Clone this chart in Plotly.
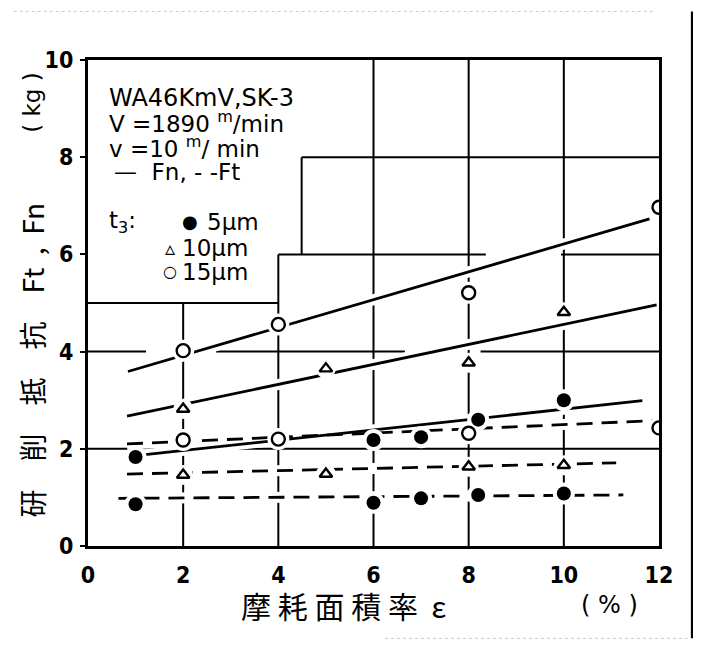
import plotly.graph_objects as go

# ---------------- data ----------------
# t3 = 5 um (filled circles)
x5 = [1, 6, 7, 8.2, 10]
fn5 = [1.83, 2.18, 2.24, 2.6, 3.0]
ft5 = [0.86, 0.89, 0.98, 1.05, 1.08]
# t3 = 10 um (open triangles)
x10 = [2, 5, 8, 10]
fn10 = [2.82, 3.65, 3.77, 4.81]
ft10 = [1.46, 1.48, 1.63, 1.66]
# t3 = 15 um (open circles)
x15 = [2, 4, 8, 12]
fn15 = [4.02, 4.56, 5.21, 6.97]
ft15 = [2.18, 2.2, 2.32, 2.43]

# fitted lines (end points)
fit_fn5_x, fit_fn5_y = [1.1, 11.65], [1.87, 2.99]
fit_ft5_x, fit_ft5_y = [0.64, 11.25], [0.98, 1.05]
fit_fn10_x, fit_fn10_y = [0.82, 11.95], [2.67, 4.96]
fit_ft10_x, fit_ft10_y = [0.82, 11.1], [1.48, 1.71]
fit_fn15_x, fit_fn15_y = [0.84, 11.8], [3.59, 6.73]
fit_ft15_x, fit_ft15_y = [0.82, 11.9], [2.1, 2.58]

xticks = [0, 2, 4, 6, 8, 10, 12]
yticks = [0, 2, 4, 6, 8, 10]

FONT = "DejaVu Sans Condensed"
LFONT = "DejaVu Sans"
CJK = "Noto Sans CJK JP"

fig = go.Figure()

fits = [
    (fit_fn5_x, fit_fn5_y, "solid"),
    (fit_ft5_x, fit_ft5_y, "16px,9px"),
    (fit_fn10_x, fit_fn10_y, "solid"),
    (fit_ft10_x, fit_ft10_y, "16px,9px"),
    (fit_fn15_x, fit_fn15_y, "solid"),
    (fit_ft15_x, fit_ft15_y, "16px,9px"),
]
# white under-lays (gaps in grid where lines cross)
for fx, fy, d in fits:
    fig.add_trace(go.Scatter(x=fx, y=fy, mode="lines",
                             line=dict(color="white", width=11),
                             hoverinfo="skip", showlegend=False))
for fx, fy, d in fits:
    fig.add_trace(go.Scatter(x=fx, y=fy, mode="lines",
                             line=dict(color="black", width=2.8, dash=d),
                             hoverinfo="skip", showlegend=False))

# marker halos
for xs, ys, sz in [(x5, fn5, 22), (x5, ft5, 22), (x10, fn10, 20), (x10, ft10, 20),
                   (x15, fn15, 22), (x15, ft15, 22)]:
    fig.add_trace(go.Scatter(x=xs, y=ys, mode="markers",
                             marker=dict(symbol="circle", size=sz, color="white"),
                             hoverinfo="skip", showlegend=False))

# markers
for ys in (fn5, ft5):
    fig.add_trace(go.Scatter(x=x5, y=ys, mode="markers",
                             marker=dict(symbol="circle", size=14, color="black"),
                             showlegend=False))
for ys in (fn10, ft10):
    fig.add_trace(go.Scatter(x=x10, y=ys, mode="markers",
                             marker=dict(symbol="triangle-up", size=11, color="white",
                                         line=dict(color="black", width=2.4)),
                             showlegend=False))
for ys in (fn15, ft15):
    fig.add_trace(go.Scatter(x=x15, y=ys, mode="markers",
                             marker=dict(symbol="circle", size=13, color="white",
                                         line=dict(color="black", width=2.4)),
                             showlegend=False))

# grid segments (decoration, leaving the legend area blank)
grid = [
    (2, 0, 2, 5), (4, 0, 4, 6), (6, 0, 6, 10), (8, 0, 8, 10), (10, 0, 10, 10),
    (4.49, 6, 4.49, 8),
    (0, 2, 12, 2), (0, 4, 1.22, 4), (2.69, 4, 6.66, 4), (8.25, 4, 12, 4),
    (0, 5, 4, 5), (4, 6, 8.36, 6), (9.94, 6, 12, 6), (4.49, 8, 12, 8),
]
for x0, y0, x1, y1 in grid:
    fig.add_shape(type="line", x0=x0, y0=y0, x1=x1, y1=y1, xref="x", yref="y",
                  line=dict(color="black", width=2), layer="below")

# scan border on the right and faint dotted edges
fig.add_shape(type="line", x0=1.058, x1=1.058, y0=1.10, y1=-0.19, xref="paper", yref="paper",
              line=dict(color="black", width=2.5))
fig.add_shape(type="line", x0=-0.13, x1=0.99, y0=1.10, y1=1.10, xref="paper", yref="paper",
              line=dict(color="#c8c8c8", width=1, dash="dot"))
fig.add_shape(type="line", x0=0.52, x1=1.05, y0=-0.19, y1=-0.19, xref="paper", yref="paper",
              line=dict(color="#c8c8c8", width=1, dash="dot"))

ann = []
def txt(x, y, s, size=23, font=LFONT, xanchor="left", **kw):
    ann.append(dict(x=x, y=y, xref="x", yref="y", text=s, showarrow=False,
                    xanchor=xanchor, yanchor="middle",
                    font=dict(family=font, size=size, color="black"), **kw))

# legend text box
txt(0.40, 9.22, "WA46KmV,SK-3", size=24)
txt(0.40, 8.72, "V =1890 <sup>m</sup>/min")
txt(0.40, 8.21, "v =10 <sup>m</sup>/ min")
txt(0.50, 7.70, "—  Fn, - -Ft")
txt(0.40, 6.67, "t<sub>3</sub>:")
txt(2.14, 6.67, "●", size=18, xanchor="center")
txt(2.46, 6.67, "5μm")
txt(1.72, 6.13, "▵", size=20, xanchor="center")
txt(1.93, 6.13, "10μm")
txt(1.72, 5.64, "○", size=16, xanchor="center")
txt(1.93, 5.64, "15μm")

# axis titles
def ptxt(x, y, s, size, font, angle=0):
    ann.append(dict(x=x, y=y, xref="paper", yref="paper", text=s, showarrow=False,
                    xanchor="center", yanchor="middle", textangle=angle,
                    font=dict(family=font, size=size, color="black")))

ptxt(0.447, -0.122, "摩 耗 面 積 率  ε", 30, CJK)
ptxt(0.914, -0.122, "( % )", 24, LFONT)
ptxt(-0.098, 0.382, "研　削　抵　抗　Ft  ,  Fn", 28, CJK, angle=-90)
ptxt(-0.098, 0.912, "( kg )", 23, LFONT, angle=-90)

fig.update_layout(
    width=693, height=642,
    margin=dict(l=80, r=42, t=52, b=104, autoexpand=False),
    paper_bgcolor="white", plot_bgcolor="white",
    annotations=ann,
    xaxis=dict(range=[0, 12], tickvals=xticks, ticktext=[str(v) for v in xticks],
               showgrid=False, zeroline=False, showline=True, linecolor="black",
               linewidth=3, mirror=True, ticks="", layer="below traces",
               tickfont=dict(family=FONT, size=23, color="black", weight="bold"),
               ticklabelstandoff=6, automargin=False),
    yaxis=dict(range=[0, 10], tickvals=yticks, ticktext=[str(v) for v in yticks],
               showgrid=False, zeroline=False, showline=True, linecolor="black",
               linewidth=3, mirror=True, ticks="outside", ticklen=5, tickwidth=2,
               tickcolor="black", layer="below traces",
               tickfont=dict(family=FONT, size=23, color="black", weight="bold"),
               ticklabelstandoff=2, automargin=False),
)

fig.write_html("out.html")
